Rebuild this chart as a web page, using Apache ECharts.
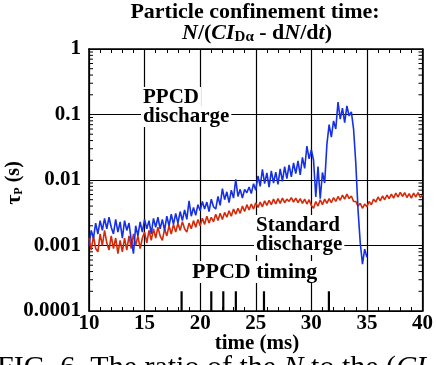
<!DOCTYPE html>
<html>
<head>
<meta charset="utf-8">
<script src="https://cdn.jsdelivr.net/npm/echarts@6/dist/echarts.min.js"></script>
<style>
  html, body { margin: 0; padding: 0; background: #fff; }
  #chart { width: 436px; height: 365px; }
</style>
</head>
<body>
<div id="chart"></div>
<script>
// Sampling grid of the traces (ms)
const sampleStart = 10.0;
const sampleStep = 0.2;

// PPCD discharge: particle confinement time tau_P (s), 10.0 .. 35.0 ms
const ppcdTau = [
  .0010, .0017, .0013, .0022, .0015, .0024, .0017, .0026, .0018, .0027,
  .0019, .0015, .0025, .0016, .0023, .0013, .0024, .0017, .0022, .0012,
  .00075, .0020, .0014, .0023, .0016, .0025, .0018, .0024, .0015, .0026,
  .0019, .0027, .0018, .0025, .0017, .0028, .0020, .0030, .0021, .0031,
  .0022, .0033, .0024, .0035, .0025, .0048, .0028, .0038, .0029, .0042,
  .0034, .0047, .0036, .0046, .0033, .0051, .0039, .0036, .0056, .0041,
  .0074, .0050, .0066, .0045, .0070, .0053, .0102, .0056, .0072, .0053,
  .0072, .0064, .0078, .0062, .0088, .0070, .0115, .0080, .0145, .0088,
  .0128, .0078, .0138, .0090, .0132, .0086, .0148, .0095, .0160, .0105,
  .0170, .0112, .0182, .0125, .0196, .0120, .0222, .0150, .0330, .0210,
  .0290, .0200, .0055, .0160, .0052, .0130, .0090, .0350, .0700, .0450,
  .0800, .0600, .1550, .0850, .1250, .0750, .1350, .0950, .1100, .0600,
  .0180, .0035, .0011, .00052, .00088, .00066
];

// Standard discharge: tau_P (s), 10.0 .. 40.0 ms
const standardTau = [
  .0013, .00085, .0014, .0009, .0008, .0015, .0010, .0017, .0011, .00085,
  .0014, .0009, .0013, .00075, .0012, .0008, .0013, .00085, .0014, .0009,
  .0015, .0010, .0014, .0009, .0013, .0016, .0011, .0017, .0012, .0018,
  .0013, .0019, .0014, .0012, .0018, .0014, .0020, .0015, .0021, .0016,
  .0022, .0017, .0023, .0018, .0016, .0022, .0018, .0024, .0019, .0025,
  .0020, .0026, .0021, .0028, .0022, .0027, .0023, .0030, .0024, .0031,
  .0025, .0032, .0027, .0034, .0028, .0036, .0030, .0037, .0031, .0040,
  .0033, .0042, .0035, .0043, .0036, .0045, .0038, .0046, .0039, .0048,
  .0041, .0049, .0042, .0051, .0043, .0052, .0044, .0053, .0045, .0051,
  .0047, .0054, .0046, .0053, .0045, .0052, .0044, .0051, .0043, .0050,
  .0041, .0037, .0047, .0040, .0050, .0042, .0051, .0044, .0052, .0045,
  .0054, .0047, .0056, .0049, .0059, .0051, .0061, .0052, .0057, .0047,
  .0047, .0040, .0044, .0037, .0043, .0039, .0047, .0042, .0051, .0046,
  .0055, .0048, .0057, .0050, .0059, .0052, .0061, .0053, .0063, .0055,
  .0065, .0056, .0064, .0054, .0062, .0053, .0063, .0055, .0064, .0054,
  .0059
];

// PPCD pulse firing times (ms), drawn as bars at the bottom of the plot
const timingPulses = [18.33, 21.0, 22.08, 23.21, 25.74, 31.58];
const pulseBase = 0.0001;
const pulseTop = 0.0002;

// Axis ranges and labels
const timeMin = 10, timeMax = 40, timeInterval = 5;
const tauMin = 0.0001, tauMax = 1;
const tauLabels = ['0.0001', '0.001', '0.01', '0.1', '1'];

const serif = "'Liberation Serif', 'Times New Roman', serif";
const ink = '#000';
const minorTickLen = 4;

// Logarithmic minor tick positions (2..9 within each decade)
const tauMinorTicks = [];
for (let d = -4; d < 0; d++) {
  for (let m = 2; m <= 9; m++) tauMinorTicks.push(+(m * Math.pow(10, d)).toPrecision(3));
}

function toSeries(values) {
  return values.map((v, i) => [+(sampleStart + i * sampleStep).toFixed(2), v]);
}

function boldFont(size) {
  return 'bold ' + size + "px 'Liberation Serif', 'Times New Roman', serif";
}

const chart = echarts.init(document.getElementById('chart'), null, { renderer: 'canvas' });

const tickStyle = { color: ink, width: 1 };
const frameLine = { show: true, onZero: false, lineStyle: { color: ink, width: 1.6 } };

chart.setOption({
  animation: false,
  backgroundColor: '#fff',
  grid: { left: 89, right: 11, top: 49, bottom: 54, containLabel: false },
  xAxis: [
    {
      type: 'value', min: timeMin, max: timeMax, interval: timeInterval, position: 'bottom',
      axisLine: frameLine,
      axisTick: { show: true, inside: true, length: minorTickLen, lineStyle: tickStyle },
      minorTick: { show: true, splitNumber: 5, length: minorTickLen, lineStyle: tickStyle },
      splitLine: { show: true, lineStyle: { color: ink, width: 1.2 } },
      axisLabel: { color: ink, fontFamily: serif, fontWeight: 'bold', fontSize: 21, margin: 2 }
    },
    {
      type: 'value', min: timeMin, max: timeMax, interval: timeInterval, position: 'top',
      axisLine: frameLine,
      axisTick: { show: true, inside: true, length: minorTickLen, lineStyle: tickStyle },
      minorTick: { show: true, splitNumber: 5, length: minorTickLen, lineStyle: tickStyle },
      splitLine: { show: false },
      axisLabel: { show: false }
    }
  ],
  yAxis: [
    {
      type: 'log', logBase: 10, min: tauMin, max: tauMax, position: 'left',
      axisLine: frameLine,
      axisTick: { show: false },
      splitLine: { show: true, lineStyle: { color: ink, width: 1.2 } },
      axisLabel: {
        color: ink, fontFamily: serif, fontWeight: 'bold', fontSize: 21, margin: 8,
        formatter: v => tauLabels[Math.round(Math.log10(v)) + 4]
      }
    },
    {
      type: 'log', logBase: 10, min: tauMin, max: tauMax, position: 'right',
      axisLine: frameLine,
      axisTick: { show: false },
      splitLine: { show: false },
      axisLabel: { show: false }
    }
  ],
  series: [
    {
      name: 'Standard discharge', type: 'line', xAxisIndex: 0, yAxisIndex: 0,
      data: toSeries(standardTau), showSymbol: false, symbol: 'none',
      lineStyle: { color: '#d42a0a', width: 1.6 }, z: 3
    },
    {
      name: 'PPCD discharge', type: 'line', xAxisIndex: 0, yAxisIndex: 0,
      data: toSeries(ppcdTau), showSymbol: false, symbol: 'none',
      lineStyle: { color: '#1630e6', width: 1.6 }, z: 4
    },
    {
      // log-axis minor ticks on the left and right frame, pointing inward
      name: 'tau minor ticks', type: 'custom', xAxisIndex: 0, yAxisIndex: 0,
      data: tauMinorTicks.map(v => [timeMin, v]),
      silent: true,
      renderItem: (params, api) => {
        const p = api.coord([timeMin, api.value(1)]);
        const cs = params.coordSys;
        const left = cs.x, right = cs.x + cs.width;
        return {
          type: 'group',
          children: [
            { type: 'line', shape: { x1: left, y1: p[1], x2: left + minorTickLen, y2: p[1] }, style: { stroke: ink, lineWidth: 1 } },
            { type: 'line', shape: { x1: right, y1: p[1], x2: right - minorTickLen, y2: p[1] }, style: { stroke: ink, lineWidth: 1 } }
          ]
        };
      },
      z: 2
    },
    {
      name: 'PPCD timing', type: 'custom', xAxisIndex: 0, yAxisIndex: 0,
      data: timingPulses.map(t => [t]),
      renderItem: (params, api) => {
        const t = api.value(0);
        const p0 = api.coord([t, pulseBase]);
        const p1 = api.coord([t, pulseTop]);
        return {
          type: 'line',
          shape: { x1: p0[0], y1: p0[1], x2: p1[0], y2: p1[1] },
          style: { stroke: ink, lineWidth: 2.2 }
        };
      },
      z: 5
    }
  ],
  graphic: [
    {
      type: 'text',
      style: { text: 'Particle confinement time:', x: 255, y: 1, align: 'center', font: boldFont(22), fill: ink }
    },
    {
      type: 'text',
      style: {
        x: 257, y: 21, align: 'center', fill: ink,
        text: '{i|N}{b|/(}{i|CI}{s|Dα}{b| - d}{i|N}{b|/d}{i|t}{b|)}',
        rich: {
          i: { fontFamily: serif, fontWeight: 'bold', fontStyle: 'italic', fontSize: 22, fill: ink },
          b: { fontFamily: serif, fontWeight: 'bold', fontSize: 22, fill: ink },
          s: { fontFamily: serif, fontWeight: 'bold', fontSize: 15, fill: ink, padding: [9, 0, 0, 0] }
        }
      }
    },
    {
      type: 'text', rotation: Math.PI / 2, x: 14, y: 183,
      style: {
        x: 0, y: 0, align: 'center', verticalAlign: 'middle', fill: ink,
        text: '{t|τ}{s|P}{b| (s)}',
        rich: {
          t: { fontFamily: serif, fontWeight: 'bold', fontSize: 22, fill: ink },
          b: { fontFamily: serif, fontWeight: 'bold', fontSize: 20, fill: ink },
          s: { fontFamily: serif, fontWeight: 'bold', fontSize: 12, fill: ink, padding: [9, 0, 0, 0] }
        }
      }
    },
    {
      type: 'text',
      style: { x: 257, y: 333, align: 'center', text: 'time (ms)', fill: ink, font: boldFont(21) }
    },
    {
      type: 'text',
      style: {
        x: -3, y: 353, fill: ink,
        text: 'FIG. 6. The ratio of the {i|N} to the ({i|CI}',
        font: "30px 'Liberation Serif', 'Times New Roman', serif",
        rich: {
          i: { fontFamily: serif, fontStyle: 'italic', fontSize: 30, fill: ink }
        }
      }
    },
    {
      type: 'text', z: 10,
      style: { x: 141, y: 87, text: 'PPCD', fill: ink, backgroundColor: '#fff', padding: [0, 2], font: boldFont(21) }
    },
    {
      type: 'text', z: 10,
      style: { x: 141, y: 106, text: 'discharge', fill: ink, backgroundColor: '#fff', padding: [0, 2], font: boldFont(21) }
    },
    {
      type: 'text', z: 10,
      style: { x: 254, y: 215, text: 'Standard', fill: ink, backgroundColor: '#fff', padding: [0, 2], font: boldFont(21) }
    },
    {
      type: 'text', z: 10,
      style: { x: 254, y: 234, text: 'discharge', fill: ink, backgroundColor: '#fff', padding: [0, 2], font: boldFont(21) }
    },
    {
      type: 'text', z: 10,
      style: { x: 190, y: 261, text: 'PPCD timing', fill: ink, backgroundColor: '#fff', padding: [0, 2], font: boldFont(22) }
    }
  ]
});
</script>
</body>
</html>
